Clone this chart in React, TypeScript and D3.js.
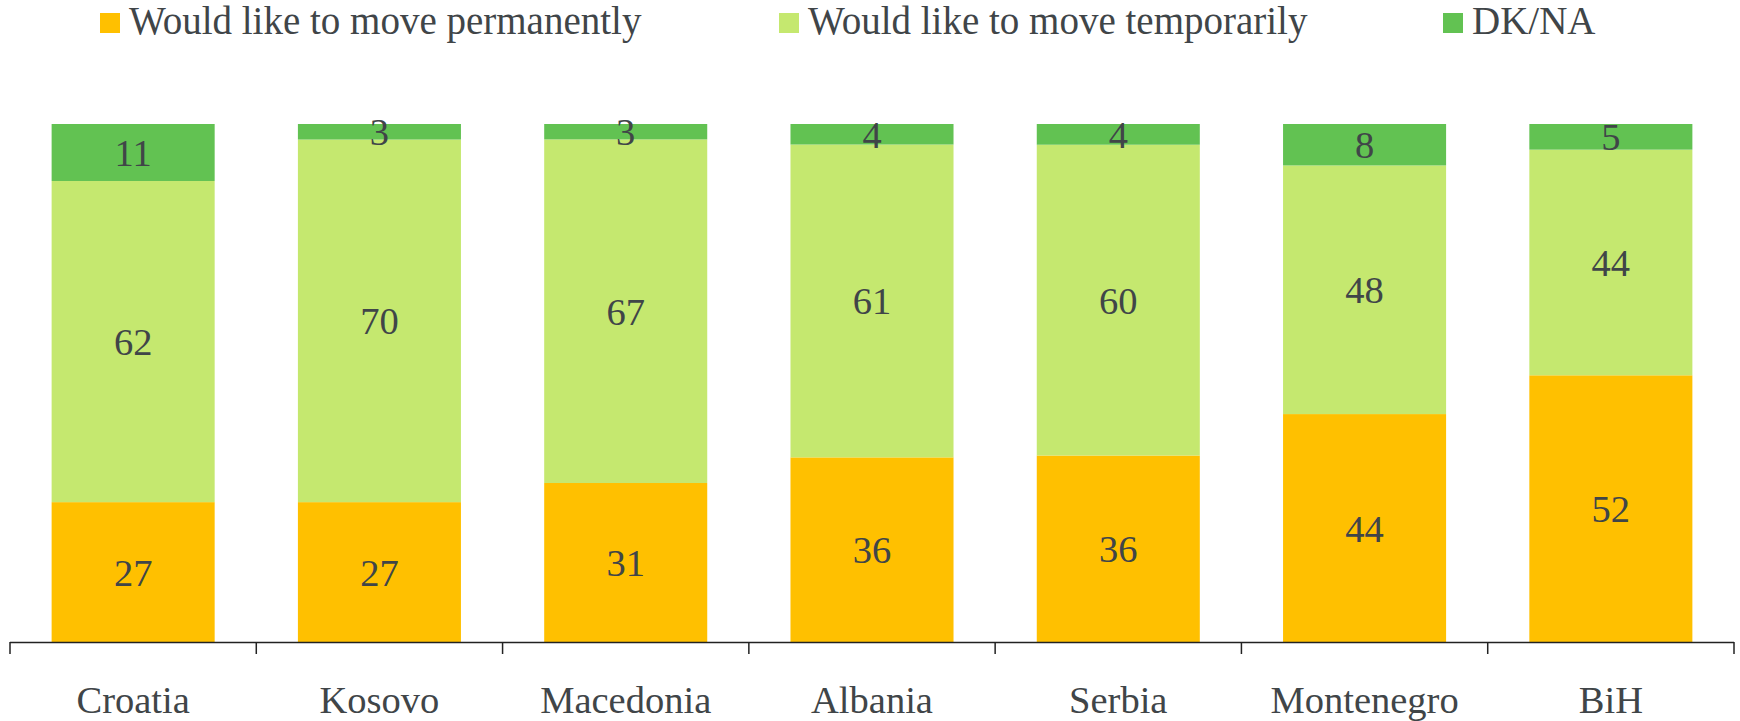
import React from "react";
import * as d3 from "d3";

const categories = ["Croatia", "Kosovo", "Macedonia", "Albania", "Serbia", "Montenegro", "BiH"];
const permanently = [27, 27, 31, 36, 36, 44, 52];
const temporarily = [62, 70, 67, 61, 60, 48, 44];
const dkna = [11, 3, 3, 4, 4, 8, 5];
const seriesNames = ["Would like to move permanently", "Would like to move temporarily", "DK/NA"];
const seriesColors = ["#FFC000", "#C5E86F", "#62C252"];

const W = 1740;
const H = 721;
const FONT = "'Liberation Serif', 'Times New Roman', serif";
const TEXT = "#404548";

export default function App() {
  const keys = ["p", "t", "d"];
  const rows = categories.map((c, i) => ({ c, p: permanently[i], t: temporarily[i], d: dkna[i] }));
  const stack = d3.stack<any>().keys(keys).offset(d3.stackOffsetExpand);
  const layers = stack(rows);

  const x = d3.scaleBand<string>().domain(categories).range([10, 1734]).paddingInner(0.338).paddingOuter(0.169);
  const band = d3.scaleBand<string>().domain(categories).range([10, 1734]).padding(0);
  const y = d3.scaleLinear().domain([0, 1]).range([642, 124]);

  const legendX = [100, 779, 1443];

  return (
    <svg width={W} height={H} style={{ position: "absolute", left: 0, top: 0, background: "#fff" }} fontFamily={FONT}>
      {seriesNames.map((n, i) => (
        <g key={n}>
          <rect x={legendX[i]} y={13} width={20} height={20} fill={seriesColors[i]} />
          <text x={legendX[i] + 29} y={34} fontSize={39} fill={TEXT}>{n}</text>
        </g>
      ))}
      {layers.map((layer, li) => (
        <g key={li}>
          {layer.map((seg, ci) => {
            const y0 = y(seg[0]);
            const y1 = y(seg[1]);
            const cat = categories[ci];
            const vals = [permanently, temporarily, dkna][li];
            return (
              <g key={cat}>
                <rect x={x(cat)} y={y1} width={x.bandwidth()} height={y0 - y1} fill={seriesColors[li]} />
                <text
                  x={(x(cat) as number) + x.bandwidth() / 2}
                  y={(y0 + y1) / 2}
                  dy="0.35em"
                  textAnchor="middle"
                  fontSize={38.5}
                  fill={TEXT}
                >
                  {vals[ci]}
                </text>
              </g>
            );
          })}
        </g>
      ))}
      <line x1={10} x2={1734} y1={642.5} y2={642.5} stroke="#222" strokeWidth={1.5} />
      {categories.map((c) => (
        <line key={c} x1={band(c)} x2={band(c)} y1={642} y2={654} stroke="#222" strokeWidth={1.5} />
      ))}
      <line x1={1734} x2={1734} y1={642} y2={654} stroke="#222" strokeWidth={1.5} />
      {categories.map((c) => (
        <text key={c} x={(band(c) as number) + band.bandwidth() / 2} y={713} textAnchor="middle" fontSize={38.5} fill={TEXT}>
          {c}
        </text>
      ))}
    </svg>
  );
}
